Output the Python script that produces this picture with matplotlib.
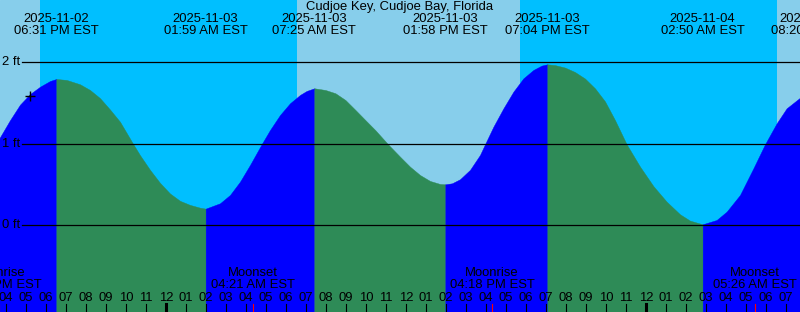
import matplotlib
matplotlib.use("Agg")
import matplotlib.pyplot as plt
import numpy as np

# hours are counted from 2025-11-03 00:00 EST
hours = [-8.35, -7.8, -7.3, -6.8, -6.3, -5.8, -5.483, -4.97, -4.3, -3.8, -3.3,
         -2.8, -2.3, -1.65, -1.3, -0.8, -0.3, 0.2, 0.7, 1.2, 1.7, 1.983,
         2.7, 3.2, 3.7, 4.2, 4.78, 5.2, 5.7, 6.2, 6.7, 7.03, 7.417,
         7.97, 8.47, 8.97, 9.47, 9.97, 10.47, 11.1, 11.7, 12.2, 12.7, 13.2,
         13.7, 13.967,
         14.3, 14.7, 15.2, 15.7, 15.95, 16.37, 16.87, 17.37, 17.87, 18.37,
         18.78, 19.067,
         19.45, 19.95, 20.45, 20.95, 21.45, 21.95, 22.45, 23.03, 23.7, 24.37,
         25.03, 25.7, 26.2, 26.833,
         27.53, 28.03, 28.7, 29.37, 29.95, 30.53, 31.03, 31.7, 31.75]
height_ft = [1.06, 1.29, 1.48, 1.61, 1.70, 1.77, 1.795, 1.783, 1.73, 1.66, 1.56,
             1.42, 1.27, 1.00, 0.86, 0.68, 0.52, 0.39, 0.30, 0.25, 0.216, 0.204,
             0.27, 0.372, 0.535, 0.74, 0.994, 1.169, 1.353, 1.497, 1.599, 1.648, 1.681,
             1.66, 1.62, 1.537, 1.415, 1.29, 1.166, 0.994, 0.842, 0.719, 0.617, 0.544,
             0.507, 0.503,
             0.515, 0.565, 0.68, 0.863, 0.994, 1.21, 1.435, 1.64, 1.803, 1.906,
             1.959, 1.975,
             1.965, 1.935, 1.88, 1.80, 1.68, 1.52, 1.29, 0.994, 0.72, 0.48,
             0.29, 0.135, 0.057, 0.012,
             0.065, 0.167, 0.372, 0.70, 0.994, 1.25, 1.435, 1.565, 1.575]

tide_times = [-5.483, 1.983, 7.417, 13.967, 19.067, 26.833, 32.333]
tide_dates = ["2025-11-02", "2025-11-03", "2025-11-03", "2025-11-03",
              "2025-11-03", "2025-11-04", "2025-11-04"]
tide_clock = ["06:31 PM EST", "01:59 AM EST", "07:25 AM EST", "01:58 PM EST",
              "07:04 PM EST", "02:50 AM EST", "08:20 AM EST"]

moon_times = [-8.35, 4.35, 16.3, 29.43]
moon_names = ["Moonrise", "Moonset", "Moonrise", "Moonset"]
moon_clock = ["03:39 PM EST", "04:21 AM EST", "04:18 PM EST", "05:26 AM EST"]

night_spans = [(-6.3, 6.55), (17.7, 30.55)]
mark_hour, mark_ft = -6.8, 1.59
grid_ft = [0, 1, 2]

DAY = "#87CEEB"
NIGHT = "#00BFFF"
RISE = "#0000FF"
FALL = "#2E8B57"
W, H = 800, 312
X_LO, X_HI = -8.3, 31.7
Y_LO, Y_HI = -1.064, 2.764

plt.rcParams["font.family"] = ["Liberation Sans", "DejaVu Sans"]
plt.rcParams["font.size"] = 9.4

fig = plt.figure(figsize=(W / 100, H / 100), dpi=100)
ax = fig.add_axes([0, 0, 1, 1])
ax.set_xlim(X_LO, X_HI)
ax.set_ylim(Y_LO, Y_HI)
ax.axis("off")
ax.add_patch(plt.Rectangle((0, 0), 1, 1, transform=ax.transAxes,
                           color=DAY, zorder=0))

for a, b in night_spans:
    ax.axvspan(a, b, color=NIGHT, lw=0, zorder=1)

# tide curve: blue while rising, green while falling
t = np.array(hours)
h = np.array(height_ft)
ext = [int(np.argmin(np.abs(t - x))) for x in tide_times if t[0] < x < t[-1]]
bounds = [0] + ext + [len(t) - 1]
for a, b in zip(bounds[:-1], bounds[1:]):
    col = RISE if h[b] > h[a] else FALL
    ax.fill_between(t[a:b + 1], h[a:b + 1], Y_LO, color=col, lw=0.3,
                    edgecolor=col, zorder=2)

xt = ax.get_xaxis_transform()
yt = ax.get_yaxis_transform()
for g in grid_ft:
    ax.plot([22 / W, 1], [g, g], color="black", lw=0.9, transform=yt, zorder=3)
    ax.text(2.5 / W, g, f"{g} ft", ha="left", va="center", transform=yt, zorder=4)

ax.plot(mark_hour, mark_ft, marker="+", color="black", markersize=6.5,
        markeredgewidth=1.0, zorder=4)


def fy(ypix):
    return 1 - ypix / H


ax.text(0.5, fy(7), "Cudjoe Key, Cudjoe Bay, Florida", ha="center", va="center",
        transform=ax.transAxes, zorder=5)
for x, d, c in zip(tide_times, tide_dates, tide_clock):
    ax.text(x, fy(19.5), d, ha="center", va="center", transform=xt, zorder=5)
    ax.text(x, fy(31.3), c, ha="center", va="center", transform=xt, zorder=5)

for x, n, c in zip(moon_times, moon_names, moon_clock):
    ax.text(x, fy(273.3), n, ha="center", va="center", transform=xt, zorder=5)
    ax.text(x, fy(285.5), c, ha="center", va="center", transform=xt, zorder=5)

# hour ticks along the bottom
for hr in range(-8, 32):
    lab = f"{(hr % 12) or 12:02d}"
    ax.text(hr, fy(297.8), lab, ha="center", va="center", transform=xt, zorder=5)
    lw = 2.2 if hr % 24 == 0 else 0.8
    ax.plot([hr, hr], [0, 8 / H], color="black", lw=lw, transform=xt, zorder=5)
for x in moon_times:
    ax.plot([x, x], [0, 8 / H], color="red", lw=0.8, transform=xt, zorder=6)

fig.savefig("out.png", dpi=100)
